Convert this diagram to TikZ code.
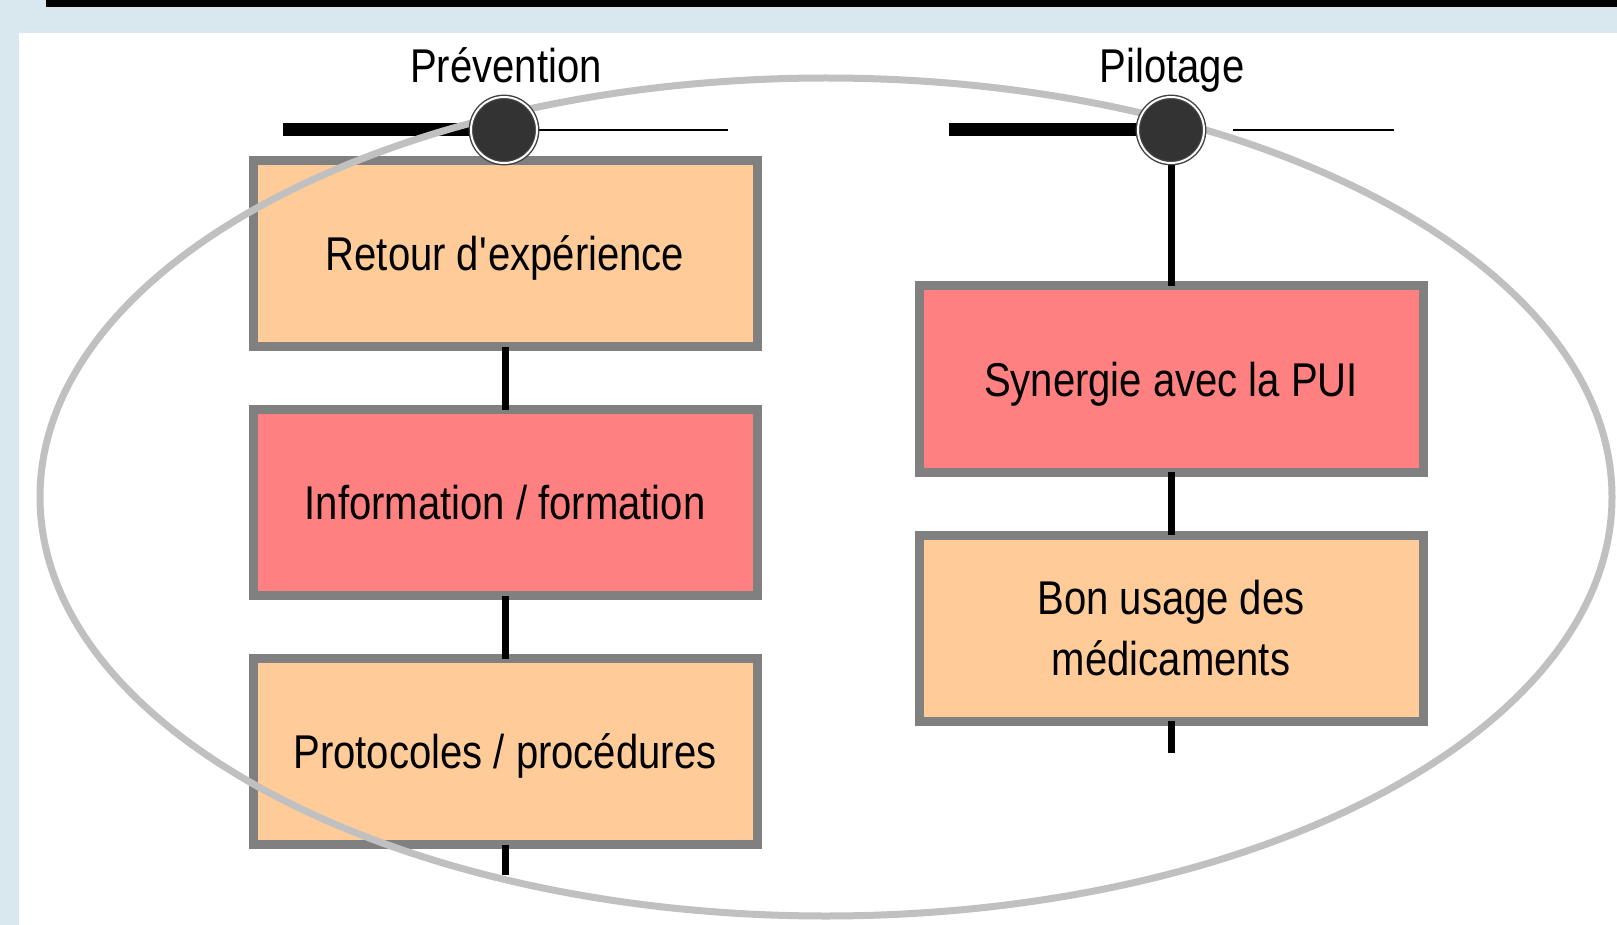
\documentclass[tikz,border=0pt]{standalone}
\usepackage{fontspec}
\setmainfont{Liberation Sans}[FakeStretch=0.845]
\usetikzlibrary{positioning,backgrounds}
\definecolor{bgblue}{HTML}{D9E8EF}
\definecolor{peach}{HTML}{FFCC99}
\definecolor{rose}{HTML}{FF8080}
\definecolor{rim}{HTML}{808080}
\definecolor{ring}{HTML}{C0C0C0}
\definecolor{knotfill}{HTML}{333333}
\tikzset{
	stage/.style = {align=center, inner sep=0pt, outer sep=0pt, text centered, font=\fontsize{23.7}{30.5}\selectfont, text height=17pt, text depth=0pt},
	calm/.style = {stage, rectangle, draw=rim, line width=4.5pt, fill=peach, minimum width=252pt, minimum height=93pt},
	hot/.style = {calm, fill=rose},
	knot/.style = {circle, inner sep=0pt, outer sep=0pt, minimum size=33pt, fill=knotfill, draw=black!75, line width=0.7pt, double=white, double distance=1pt},
	headline/.style = {stage, anchor=base},
	link/.style = {line width=3.5pt},
	bar/.style = {line width=6.5pt},
	wire/.style = {line width=1.3pt}
}
\begin{document}
\begin{tikzpicture}[x=0.5pt, y=-0.5pt, node distance=31.5pt]
	\useasboundingbox (0,0) rectangle (1617,925);
	% knots and titles
	\node [knot] (kprev) at (504,130) {};
	\node [knot] (kpil) at (1171,130) {};
	\node [headline] (tprev) at (506,83) {Prévention};
	\node [headline] (tpil) at (1172,83) {Pilotage};
	\begin{scope}[on background layer]
		\fill [bgblue] (0,0) rectangle (1617,925);
		\fill [white] (19,33) rectangle (1617,925);
		\fill [black] (46,0) rectangle (1617,7);
		% left column
		\node [calm] (b11) at (505,253.5) {Retour d\textquotesingle expérience};
		\node [hot, below=of b11] (b12) {Information / formation};
		\node [calm, below=of b12] (b13) {Protocoles / procédures};
		% right column
		\node [hot] (b21) at (1171,379) {Synergie avec la PUI};
		\node [calm, below=of b21, text height=47.5pt] (b22) {Bon usage des\\médicaments};
		% free ends
		\coordinate (lprev) at (283,130);
		\coordinate (rprev) at (728,130);
		\coordinate (lpil) at (949,130);
		\coordinate (mpil) at (1233,130);
		\coordinate (rpil) at (1394,130);
		\coordinate (e13) at (505,875);
		\coordinate (e22) at (1171,753);
		% connectors
		\draw [link] (b11.south) -- (b12.north);
		\draw [link] (b12.south) -- (b13.north);
		\draw [link] (b13.south) -- (e13);
		\draw [link] (kpil.south) -- (b21.north);
		\draw [link] (b21.south) -- (b22.north);
		\draw [link] (b22.south) -- (e22);
		\draw [bar] (lprev) -- (kprev.west);
		\draw [wire] (kprev.east) -- (rprev);
		\draw [bar] (lpil) -- (kpil.west);
		\draw [wire] (mpil) -- (rpil);
		% gray ring
		\draw [ring, line width=3.5pt] (826,497) ellipse [x radius=393pt, y radius=209.5pt];
	\end{scope}
\end{tikzpicture}
\end{document}
